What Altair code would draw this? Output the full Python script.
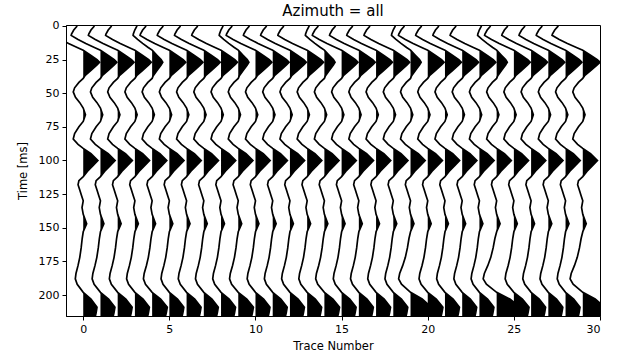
import altair as alt
import pandas as pd

# ---- data ----
traces = list(range(30))
# typical trace waveform (time in ms, amplitude in units of trace spacing)
base_t = [0, 3, 6, 7, 10, 13, 16, 18, 22, 25, 27, 29, 33, 37, 39, 42, 46, 49, 53, 57,
          61, 66, 71, 75, 80, 84, 88, 91, 95, 100, 104, 108, 112, 115, 118, 122, 126, 130,
          135, 140, 147, 153, 158, 165, 172, 178, 184, 188, 192, 198, 203, 209, 213, 216]
base_a = [-1.35, -1.55, -1.68, -1.7, -1.3, -0.85, -0.35, 0.0, 0.45, 0.8, 0.95, 0.8, 0.45, 0.1,
          0.0, -0.25, -0.5, -0.58, -0.45, -0.2, 0.0, 0.13, 0.0, -0.25, -0.5, -0.58, -0.3, 0.0,
          0.45, 0.85, 0.55, 0.25, 0.0, -0.25, -0.3, -0.2, -0.1, 0.0, -0.07, 0.0, 0.2, 0.0,
          -0.06, -0.12, -0.2, -0.3, -0.42, -0.46, -0.35, 0.0, 0.45, 0.8, 0.75, 0.7]
# per-trace gains of the early (t<=39), middle and late (t>=153) parts
top_gain = [1.0, 1.0, 1.0, 1.0, 0.65, 1.0, 1.0, 1.0, 1.0, 0.65,
            1.0, 1.0, 1.0, 1.0, 0.65, 1.0, 1.0, 1.0, 1.0, 0.65,
            1.0, 1.0, 1.0, 1.0, 0.65, 1.0, 1.0, 1.0, 1.0, 1.05]
mid_gain = [1.0] * 30
bot_gain = [1.0, 1.05, 1.05, 1.05, 1.1, 1.05, 1.05, 1.05, 1.05, 1.1,
            1.05, 1.05, 1.05, 1.05, 1.1, 1.05, 1.05, 1.05, 1.05, 1.5,
            1.1, 1.05, 1.05, 1.05, 1.7, 1.1, 1.05, 1.05, 1.05, 1.6]

x_ticks = [0, 5, 10, 15, 20, 25, 30]
y_ticks = [0, 25, 50, 75, 100, 125, 150, 175, 200]

line_rows, fill_rows = [], []
for i in traces:
    pts = []
    for t, a in zip(base_t, base_a):
        g = top_gain[i] if t <= 39 else (bot_gain[i] if t >= 153 else mid_gain[i])
        pts.append((t, a * g))
    for k, (t, a) in enumerate(pts):
        line_rows.append({"trace": i, "t": t, "x": i + a, "k": k})
    # filled polygon of the positive lobes: down the clipped curve, back up the baseline
    poly = []
    for k in range(len(pts)):
        t0, a0 = pts[k]
        poly.append((t0, max(a0, 0.0)))
        if k + 1 < len(pts):
            t1, a1 = pts[k + 1]
            if a0 * a1 < 0:
                tc = t0 + (t1 - t0) * (-a0) / (a1 - a0)
                poly.append((tc, 0.0))
    poly.append((pts[-1][0], 0.0))
    poly.append((pts[0][0], 0.0))
    for k, (t, a) in enumerate(poly):
        fill_rows.append({"trace": i, "t": t, "xf": i + a, "k": k})

ldf = pd.DataFrame(line_rows)
fdf = pd.DataFrame(fill_rows)

xscale = alt.Scale(domain=[-1, 30], nice=False, zero=False)
yscale = alt.Scale(domain=[-0.7, 215.6], nice=False, zero=False, reverse=True)

xaxis = alt.Axis(values=x_ticks, title="Trace Number", grid=False)
yaxis = alt.Axis(values=y_ticks, title="Time [ms]", grid=False)

fill = alt.Chart(fdf).mark_line(fill="black", strokeWidth=0, strokeOpacity=0,
                                 clip=True).encode(
    y=alt.Y("t:Q", scale=yscale, axis=yaxis),
    x=alt.X("xf:Q", scale=xscale, axis=xaxis),
    detail="trace:N",
    order="k:Q",
)

line = alt.Chart(ldf).mark_line(color="black", strokeWidth=1.7, clip=True).encode(
    y=alt.Y("t:Q", scale=yscale, axis=yaxis),
    x=alt.X("x:Q", scale=xscale, axis=xaxis),
    detail="trace:N",
    order="k:Q",
)

chart = alt.layer(fill, line).properties(
    width=534, height=291,
    title=alt.Title("Azimuth = all", fontSize=15, font="DejaVu Sans",
                    fontWeight="normal", color="black", offset=1),
    autosize=alt.AutoSizeParams(type="none"),
    padding={"left": 66, "top": 25, "right": 21, "bottom": 42},
).configure_view(stroke="black", strokeWidth=1).configure_axis(
    domainColor="black", tickColor="black", labelColor="black", titleColor="black",
    labelFont="DejaVu Sans", titleFont="DejaVu Sans", labelFontSize=11, titleFontSize=11.5,
    titleFontWeight="normal", tickSize=4, labelPadding=3,
).configure_axisY(titlePadding=10).configure_axisX(titlePadding=6)

chart.save("out.html", embed_options={"renderer": "svg", "actions": False})
